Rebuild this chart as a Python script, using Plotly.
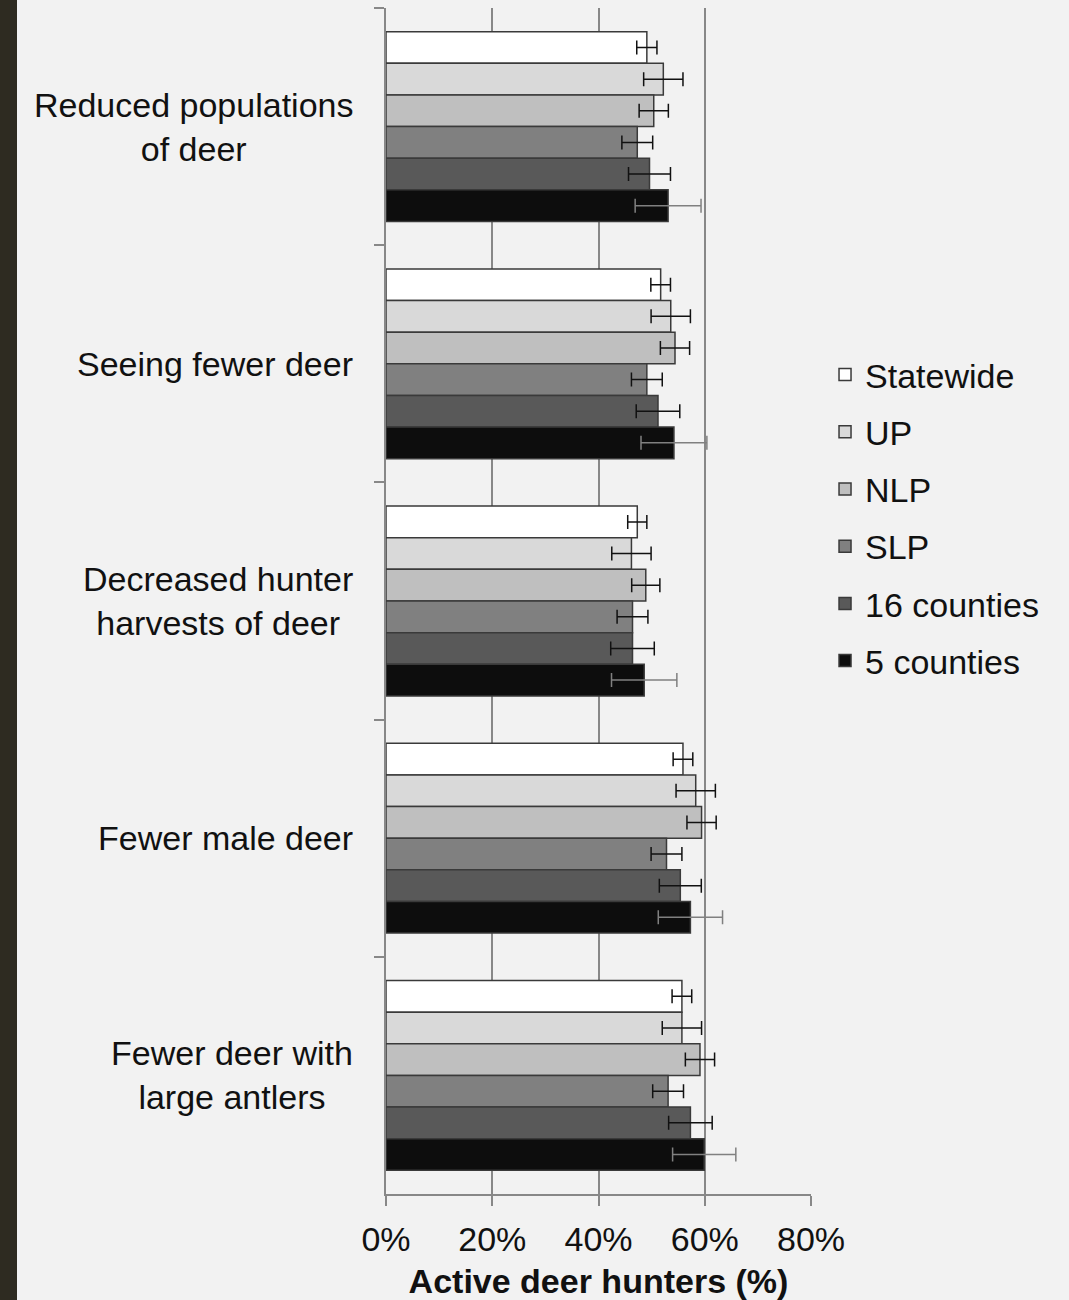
import plotly.graph_objects as go

categories = [
    "Reduced populations<br>of deer",
    "Seeing fewer deer",
    "Decreased hunter<br>harvests of deer",
    "Fewer male deer",
    "Fewer deer with<br>large antlers",
]
series_names = ["Statewide", "UP", "NLP", "SLP", "16 counties", "5 counties"]

statewide = [49.1, 51.7, 47.3, 55.9, 55.7]
up = [52.2, 53.6, 46.2, 58.3, 55.7]
nlp = [50.4, 54.4, 48.9, 59.4, 59.1]
slp = [47.3, 49.1, 46.4, 52.8, 53.1]
c16 = [49.6, 51.2, 46.4, 55.4, 57.3]
c5 = [53.1, 54.2, 48.6, 57.3, 59.9]

err_statewide = [1.9, 1.85, 1.8, 1.85, 1.85]
err_up = [3.7, 3.7, 3.7, 3.7, 3.7]
err_nlp = [2.75, 2.75, 2.65, 2.75, 2.75]
err_slp = [2.9, 2.9, 2.9, 2.9, 2.9]
err_c16 = [3.95, 4.1, 4.1, 3.95, 4.1]
err_c5 = [6.2, 6.2, 6.15, 6.05, 5.95]

tick_vals = [0, 20, 40, 60, 80]
tick_text = ["0%", "20%", "40%", "60%", "80%"]

values = [statewide, up, nlp, slp, c16, c5]
errors = [err_statewide, err_up, err_nlp, err_slp, err_c16, err_c5]
colors = ["#ffffff", "#d9d9d9", "#bfbfbf", "#808080", "#595959", "#0d0d0d"]
err_colors = ["#111111", "#111111", "#111111", "#111111", "#111111", "#808080"]

FONT = "Liberation Sans, Arial, sans-serif"
FS = 34

fig = go.Figure()
for i, name in enumerate(series_names):
    fig.add_trace(go.Bar(
        y=categories, x=values[i], name=name, orientation="h",
        marker=dict(color=colors[i], line=dict(color="#3a3a3a", width=1.5)),
        error_x=dict(type="data", array=errors[i], visible=True,
                     color=err_colors[i], thickness=1.5, width=7),
        legendgroup=name,
    ))

for c in categories:
    fig.add_annotation(
        x=0, xref="paper", y=c, yref="y", text=c, showarrow=False,
        xanchor="right", align="center", xshift=-31,
        font=dict(family=FONT, size=FS, color="#111111"),
    )

W, H = 1069, 1300
ml, mr, mt, mb = 386, 258, 8, 106
pw = W - ml - mr
fig.add_shape(type="rect", xref="paper", yref="paper",
              x0=-ml / pw, x1=-(ml - 17) / pw, y0=-1, y1=2,
              fillcolor="#2e2b21", line=dict(width=0), layer="below")

fig.update_layout(
    width=W, height=H,
    margin=dict(l=ml, r=mr, t=mt, b=mb),
    paper_bgcolor="#f2f2f2", plot_bgcolor="#f2f2f2",
    barmode="group", bargap=0.2, bargroupgap=0,
    font=dict(family=FONT, size=FS, color="#111111"),
    showlegend=True,
    legend=dict(x=1.033, xanchor="left", y=0.57, yanchor="middle",
                traceorder="grouped", tracegroupgap=10,
                font=dict(family=FONT, size=FS, color="#111111"),
                bgcolor="rgba(0,0,0,0)"),
    xaxis=dict(range=[0, 80], tickvals=tick_vals, ticktext=tick_text,
               automargin=False,
               showgrid=True, gridcolor="#888888", gridwidth=1.5,
               zeroline=False, showline=True, linecolor="#888888", linewidth=1.5,
               ticks="outside", ticklen=10, tickcolor="#888888", tickwidth=1.5,
               ticklabelstandoff=4,
               tickfont=dict(family=FONT, size=FS, color="#111111"),
               title=dict(text="<b>Active deer hunters (%)</b>", standoff=14,
                          font=dict(family=FONT, size=FS, color="#111111"))),
    yaxis=dict(autorange="reversed", showticklabels=False, automargin=False,
               showline=True, linecolor="#888888", linewidth=1.5,
               ticks="outside", tickson="boundaries", ticklen=10,
               tickcolor="#888888", tickwidth=1.5, showgrid=False),
)

fig.write_html("out.html", config={"displayModeBar": False},
               post_script="document.body.style.margin='0';document.body.style.overflow='hidden';")
